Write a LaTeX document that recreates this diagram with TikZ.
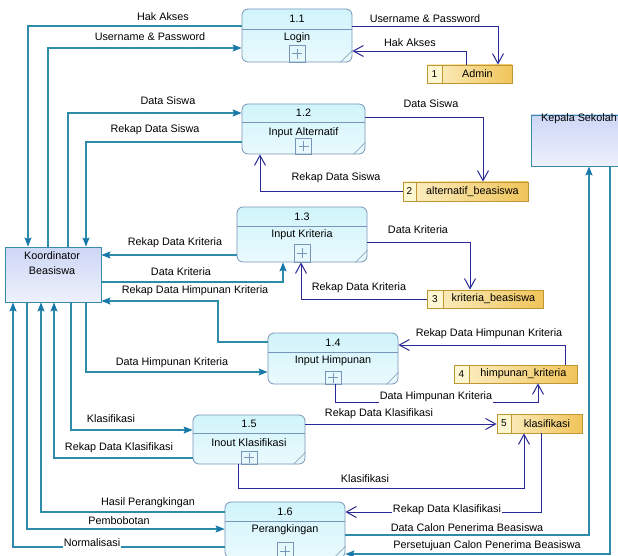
\documentclass[tikz,border=0pt]{standalone}
\usepackage{fontspec}
\setmainfont{Liberation Sans}
\usetikzlibrary{arrows.meta,calc}
\definecolor{tealL}{RGB}{45,140,170}
\definecolor{tealA}{RGB}{25,120,170}
\definecolor{navyL}{RGB}{40,40,150}
\definecolor{procB}{RGB}{120,150,185}
\definecolor{procT}{RGB}{208,244,251}
\definecolor{procE}{RGB}{234,250,253}
\definecolor{entB}{RGB}{55,140,170}
\definecolor{entT}{RGB}{205,214,245}
\definecolor{entE}{RGB}{238,241,252}
\definecolor{stB}{RGB}{190,150,50}
\definecolor{stL}{RGB}{252,240,200}
\definecolor{stR}{RGB}{240,196,90}
\definecolor{stN}{RGB}{255,247,210}
\tikzset{
  lbl/.style={inner sep=1pt, font=\fontsize{10.8}{12}\selectfont},
  lblw/.style={lbl, fill=white},
  tl/.style={draw=tealL, line width=1.1pt, -{Stealth[length=9pt,width=7pt,inset=1.5pt,fill=tealA,color=tealA]}},
  nv/.style={draw=navyL, line width=0.9pt, -{Straight Barb[length=10pt,width=11pt,line width=1pt]}},
  proc/.style={draw=procB, line width=0.8pt, rounded corners=6pt, top color=procT, bottom color=procE, inner sep=0pt},
  ent/.style={draw=entB, line width=0.9pt, top color=entT, bottom color=entE, inner sep=0pt},
  store/.style={draw=stB, line width=0.8pt, left color=stL, right color=stR, inner sep=0pt},
  stnum/.style={draw=stB, line width=0.8pt, fill=stN, inner sep=0pt, anchor=west},
  plusbox/.style={draw=procB, line width=0.6pt, inner sep=0pt, minimum width=16pt, minimum height=16pt, anchor=south,
    path picture={\draw[procB, line width=0.6pt] ([xshift=-5pt]path picture bounding box.center) -- ([xshift=5pt]path picture bounding box.center);
                  \draw[procB, line width=0.6pt] ([yshift=-5pt]path picture bounding box.center) -- ([yshift=5pt]path picture bounding box.center);}},
  ptxt/.style={inner sep=0pt, font=\fontsize{10.8}{12}\selectfont},
}
\begin{document}
\begin{tikzpicture}[x=1pt,y=-1pt]
\useasboundingbox (0,0) rectangle (618,556);
\fill[white] (0,0) rectangle (618,556);

% ---------- processes ----------
\node[proc, minimum width=110pt, minimum height=53pt] (p11) at (297,35.5) {};
\node[proc, minimum width=123pt, minimum height=50pt] (p12) at (303.5,129) {};
\node[proc, minimum width=130pt, minimum height=55pt] (p13) at (302,234.5) {};
\node[proc, minimum width=130pt, minimum height=51pt] (p14) at (333,358.5) {};
\node[proc, minimum width=112pt, minimum height=49pt] (p15) at (249,439.5) {};
\node[proc, minimum width=120pt, minimum height=56pt] (p16) at (285,530) {};

\draw[procB, line width=0.6pt] (p11.west |- 0,29) -- (p11.east |- 0,29);
\draw[procB, line width=0.6pt] (p12.west |- 0,122) -- (p12.east |- 0,122);
\draw[procB, line width=0.6pt] (p13.west |- 0,226) -- (p13.east |- 0,226);
\draw[procB, line width=0.6pt] (p14.west |- 0,352) -- (p14.east |- 0,352);
\draw[procB, line width=0.6pt] (p15.west |- 0,433) -- (p15.east |- 0,433);
\draw[procB, line width=0.6pt] (p16.west |- 0,521) -- (p16.east |- 0,521);

\foreach \p in {p11,p12,p13,p14,p15,p16}{
  \draw[procB, line width=0.6pt] ($(\p.south east)+(-12,0)$) -- ($(\p.south east)+(0,-12)$);
}

\node[ptxt] (n11) at (297,19) {1.1};
\node[ptxt] (t11) at (297,38) {Login};
\node[ptxt] (n12) at (303.5,113) {1.2};
\node[ptxt] (t12) at (303.5,133) {Input Alternatif};
\node[ptxt] (n13) at (302,216.5) {1.3};
\node[ptxt] (t13) at (302,235) {Input Kriteria};
\node[ptxt] (n14) at (333,342.5) {1.4};
\node[ptxt] (t14) at (333,361) {Input Himpunan};
\node[ptxt] (n15) at (249,424) {1.5};
\node[ptxt] (t15) at (249,443) {Inout Klasifikasi};
\node[ptxt] (n16) at (285,511.5) {1.6};
\node[ptxt] (t16) at (285,530) {Perangkingan};

\node[plusbox, minimum height=17pt] (x11) at (p11.south) {};
\node[plusbox] (x12) at (p12.south) {};
\node[plusbox, minimum height=18pt] (x13) at (p13.south) {};
\node[plusbox, minimum height=13pt] (x14) at (p14.south) {};
\node[plusbox, minimum height=13pt] (x15) at (p15.south) {};
\node[plusbox, anchor=north, minimum height=18pt] (x16) at (285,542) {};

% ---------- external entities ----------
\node[ent, minimum width=96pt, minimum height=55pt] (kb) at (53,274.5) {};
\node[ptxt, align=center, font=\fontsize{10.8}{15}\selectfont] (kbt) at (52,263.5) {Koordinator\\Beasiswa};
\node[ent, minimum width=96pt, minimum height=51pt] (ks) at (579,140.5) {};
\node[ptxt] (kst) at (579,119) {Kepala Sekolah};

% ---------- data stores ----------
\node[store, minimum width=85pt, minimum height=18pt] (adm) at (469.5,74) {};
\node[stnum, minimum width=15pt, minimum height=18pt] (adm1) at (adm.west) {1};
\node[ptxt] (admt) at ($(adm1.east)!0.5!(adm.east)$) {Admin};

\node[store, minimum width=125pt, minimum height=19pt] (as) at (465.5,191.5) {};
\node[stnum, minimum width=13pt, minimum height=19pt] (as1) at (as.west) {2};
\node[ptxt] (ast) at ($(as1.east)!0.5!(as.east)$) {alternatif\_beasiswa};

\node[store, minimum width=116pt, minimum height=18pt] (kbs) at (485,299) {};
\node[stnum, minimum width=16pt, minimum height=18pt] (kbs1) at (kbs.west) {3};
\node[ptxt] (kbst) at ($(kbs1.east)!0.5!(kbs.east)$) {kriteria\_beasiswa};

\node[store, minimum width=123pt, minimum height=18pt] (hk) at (515.5,374) {};
\node[stnum, minimum width=15pt, minimum height=18pt] (hk1) at (hk.west) {4};
\node[ptxt] (hkt) at ($(hk1.east)!0.5!(hk.east)$) {himpunan\_kriteria};

\node[store, minimum width=85pt, minimum height=19pt] (kl) at (539.5,423.5) {};
\node[stnum, minimum width=14pt, minimum height=19pt] (kl1) at (kl.west) {5};
\node[ptxt] (klt) at ($(kl1.east)!0.5!(kl.east)$) {klasifikasi};

% ---------- teal flows (entities) ----------
\draw[tl] (p11.west |- 0,26) -| (kb.north -| 28,0);
\draw[tl] (kb.north -| 48,0) |- (p11.west |- 0,48);
\draw[tl] (kb.north -| 68,0) |- (p12.west |- 0,113);
\draw[tl] (p12.west |- 0,142) -| (kb.north -| 86,0);
\draw[tl] (p13.west |- 0,255) -- (kb.east |- 0,255);
\draw[tl] (kb.east |- 0,282) -| (p13.south -| 283,0);
\draw[tl] (p14.west |- 0,342) -| (218,301) -- (kb.east |- 0,301);
\draw[tl] (kb.south -| 86,0) |- (p14.west |- 0,372);
\draw[tl] (kb.south -| 71,0) |- (p15.west |- 0,430);
\draw[tl] (p15.west |- 0,458) -| (kb.south -| 54,0);
\draw[tl] (p16.west |- 0,512) -| (kb.south -| 41,0);
\draw[tl] (kb.south -| 27,0) |- (p16.west |- 0,529);
\draw[tl] (p16.west |- 0,547) -| (kb.south -| 13,0);
\draw[tl] (p16.east |- 0,535) -| (ks.south -| 589,0);
\draw[tl] (ks.south -| 610,0) |- (p16.east |- 0,554);

% ---------- navy flows (stores) ----------
\draw[nv] (p11.east |- 0,26) -| (adm.north -| 498,0);
\draw[nv] (adm.north -| 466,0) |- (p11.east |- 0,51);
\draw[nv] (p12.east |- 0,117) -| (as.north -| 483,0);
\draw[nv] (as.west) -| (p12.south -| 260,0);
\draw[nv] (p13.east |- 0,242) -| (kbs.north -| 470,0);
\draw[nv] (kbs1.west) -| (x13.south -| 301,0);
\draw[nv] (hk.north -| 565,0) |- (p14.east |- 0,345);
\draw[nv] (x14.south -| 335,0) |- (538,402) -- (hk.south -| 538,0);
\draw[nv] (p15.east |- 0,424) -- (kl1.west |- 0,424);
\draw[nv] (p15.south -| 238,0) |- (524,488) -- (kl.south -| 524,0);
\draw[nv] (kl.south -| 541,0) |- (p16.east |- 0,512);

% ---------- labels ----------
\node[lbl] (l1) at (163,17) {Hak Akses};
\node[lbl] (l2) at (150,37) {Username \& Password};
\node[lbl] (l3) at (168,101) {Data Siswa};
\node[lbl] (l4) at (155,130) {Rekap Data Siswa};
\node[lbl] (l5) at (175,243) {Rekap Data Kriteria};
\node[lbl] (l6) at (181,272) {Data Kriteria};
\node[lbl] (l7) at (195,291) {Rekap Data Himpunan Kriteria};
\node[lbl] (l8) at (172,363) {Data Himpunan Kriteria};
\node[lbl] (l9) at (111,419) {Klasifikasi};
\node[lbl] (l10) at (119,448) {Rekap Data Klasifikasi};
\node[lbl] (l11) at (148,503) {Hasil Perangkingan};
\node[lbl] (l12) at (119,521) {Pembobotan};
\node[lblw] (l13) at (92,543) {Normalisasi};
\node[lbl] (l14) at (467,528) {Data Calon Penerima Beasiswa};
\node[lbl] (l15) at (487,546) {Persetujuan Calon Penerima Beasiswa};

\node[lbl] (m1) at (425,19) {Username \& Password};
\node[lbl] (m2) at (410,43) {Hak Akses};
\node[lbl] (m3) at (431,104) {Data Siswa};
\node[lbl] (m4) at (336,178) {Rekap Data Siswa};
\node[lbl] (m5) at (418,230) {Data Kriteria};
\node[lbl] (m6) at (359,288) {Rekap Data Kriteria};
\node[lbl] (m7) at (489,334) {Rekap Data Himpunan Kriteria};
\node[lblw] (m8) at (436,397) {Data Himpunan Kriteria};
\node[lbl] (m9) at (379,414) {Rekap Data Klasifikasi};
\node[lbl] (m10) at (365,479) {Klasifikasi};
\node[lblw] (m11) at (447,510) {Rekap Data Klasifikasi};
\end{tikzpicture}
\end{document}
